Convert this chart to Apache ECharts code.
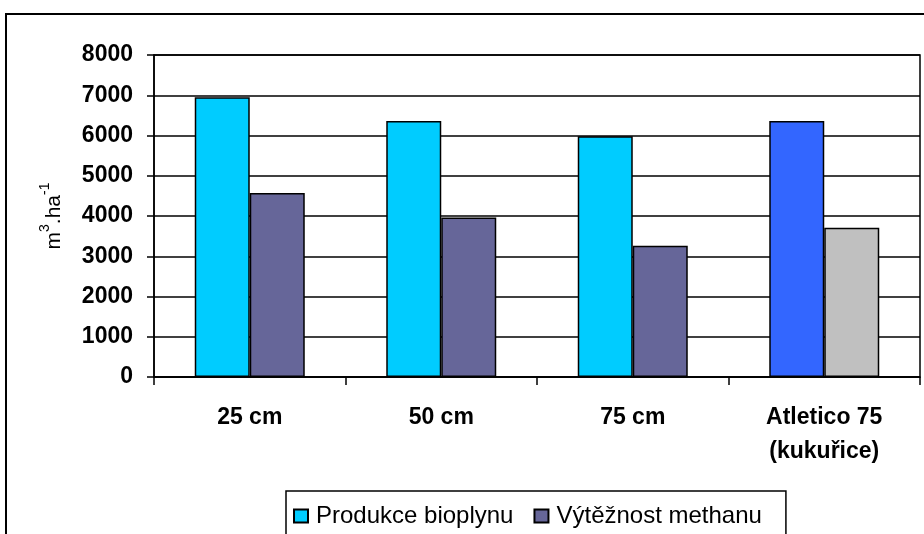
<!DOCTYPE html>
<html>
<head>
<meta charset="utf-8">
<script src="https://cdn.jsdelivr.net/npm/echarts@6/dist/echarts.min.js"></script>
<style>
  html, body { margin: 0; padding: 0; background: #fff; }
  #chart { width: 924px; height: 534px; }
</style>
</head>
<body>
<div id="chart"></div>
<script>
// Biogas production and methane yield per hectare by row spacing
var categories = ['25 cm', '50 cm', '75 cm', 'Atletico 75\n(kukuřice)'];
var seriesNames = ['Produkce bioplynu', 'Výtěžnost methanu'];
var bioplyn = [6950, 6360, 5980, 6360];
var methan = [4570, 3960, 3260, 3710];
var yTicks = { min: 0, max: 8000, interval: 1000 };

var FONT = '"Liberation Sans", Arial, sans-serif';
var colBio = '#00CCFF', colMet = '#666699';
var colBioAlt = '#3366FF', colMetAlt = '#C0C0C0';

function withAlt(values, altColor) {
  return values.map(function (v, i) {
    if (i === values.length - 1) return { value: v, itemStyle: { color: altColor } };
    return v;
  });
}

var chart = echarts.init(document.getElementById('chart'), null, { renderer: 'canvas' });
chart.setOption({
  animation: false,
  backgroundColor: '#fff',
  textStyle: { fontFamily: FONT, color: '#000' },
  graphic: [{
    type: 'rect', z: -1, silent: true,
    shape: { x: 6, y: 14, width: 1000, height: 600 },
    style: { fill: 'none', stroke: '#000', lineWidth: 2 }
  }],
  grid: {
    left: 154, right: 4, top: 55, bottom: 157,
    show: true, borderColor: '#000', borderWidth: 1.5, backgroundColor: 'transparent'
  },
  legend: {
    data: seriesNames,
    left: 286, top: 491,
    icon: 'rect', itemWidth: 14, itemHeight: 13, itemGap: 20,
    padding: [13, 24, 30, 7],
    borderColor: '#000', borderWidth: 1.5,
    textStyle: { fontFamily: FONT, fontSize: 24, color: '#000', padding: [0, 0, 0, 3] }
  },
  xAxis: {
    type: 'category',
    data: categories,
    axisLine: { lineStyle: { color: '#000', width: 1.5 } },
    axisTick: { show: true, length: 8, inside: false, alignWithLabel: false, lineStyle: { color: '#000', width: 1.5 } },
    axisLabel: {
      fontFamily: FONT, fontWeight: 'bold', fontSize: 23, color: '#000',
      margin: 24, lineHeight: 34, interval: 0
    },
    splitLine: { show: false }
  },
  yAxis: {
    type: 'value',
    min: yTicks.min, max: yTicks.max, interval: yTicks.interval,
    name: '{m|m}{s|3}{m|.ha}{s|-1}',
    nameLocation: 'middle', nameRotate: 90, nameGap: 89,
    nameTextStyle: {
      rich: {
        m: { fontFamily: FONT, fontSize: 21, color: '#000', verticalAlign: 'bottom', lineHeight: 27 },
        s: { fontFamily: FONT, fontSize: 14, color: '#000', verticalAlign: 'top', lineHeight: 27 }
      }
    },
    axisLine: { show: true, lineStyle: { color: '#000', width: 1.5 } },
    axisTick: { show: true, length: 7, lineStyle: { color: '#000', width: 1.5 } },
    axisLabel: {
      fontFamily: FONT, fontWeight: 'bold', fontSize: 23, color: '#000', margin: 21,
      formatter: function (v) { return String(v); }
    },
    splitLine: { show: true, lineStyle: { color: '#000', width: 1.5 } }
  },
  series: [{
    name: seriesNames[0], type: 'bar',
    data: withAlt(bioplyn, colBioAlt),
    barWidth: 55, barGap: '0%',
    itemStyle: { color: colBio, borderColor: '#000', borderWidth: 1.5 }
  }, {
    name: seriesNames[1], type: 'bar',
    data: withAlt(methan, colMetAlt),
    barWidth: 55, barGap: '0%',
    itemStyle: { color: colMet, borderColor: '#000', borderWidth: 1.5 }
  }]
});
</script>
</body>
</html>
